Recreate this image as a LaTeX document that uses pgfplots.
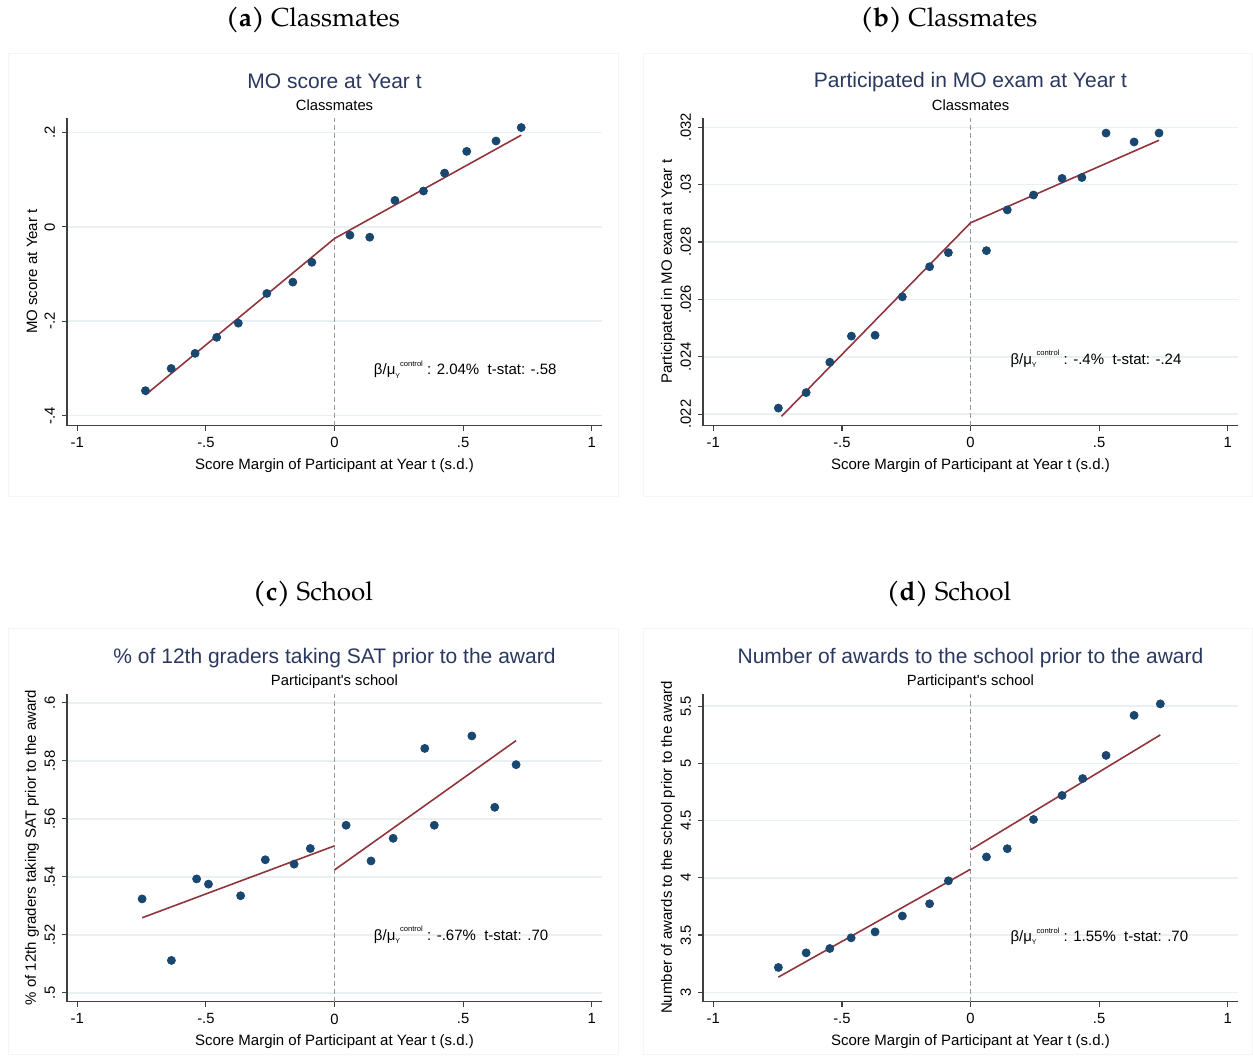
\documentclass[border=0pt]{standalone}
\usepackage{fontspec}
\setmainfont{Liberation Sans}
\newfontfamily\capfont{texgyrepagella-regular.otf}[BoldFont=texgyrepagella-bold.otf]
\usepackage{pgfplots}
\pgfplotsset{compat=1.18}

\definecolor{stnavy}{RGB}{26,71,111}
\definecolor{stmaroon}{RGB}{144,53,59}
\definecolor{sttitle}{RGB}{42,56,96}
\definecolor{stgrid}{RGB}{232,240,242}

\newcommand{\ttl}[2]{%
  \node[font=\fontsize{10.5}{12}\selectfont, text=sttitle] at (rel axis cs:0.5,1) [yshift=18pt] {#1};
  \node[font=\fontsize{7.4}{9}\selectfont] at (rel axis cs:0.5,1) [yshift=6pt] {#2};}
\newcommand{\stat}[1]{β/μ\raisebox{-0.4ex}{\fontsize{3.5}{4}\selectfont Y}\raisebox{1.1ex}{\fontsize{3.8}{4}\selectfont control} : #1}

\pgfplotsset{stata/.style={
  scale only axis, width=267.5pt, height=154pt, anchor=south west,
  axis x line*=bottom, axis y line*=left,
  axis line style={black!75, line width=0.6pt},
  xmin=-1.04, xmax=1.04,
  xtick={-1,-0.5,0,0.5,1}, xticklabels={-1,-.5,0,.5,1},
  scaled y ticks=false,
  tick align=outside, major tick length=2.5pt,
  tick style={black!75, line width=0.6pt},
  ymajorgrids, grid style={stgrid, line width=0.8pt},
  tick label style={font=\fontsize{7.4}{8}\selectfont},
  yticklabel style={rotate=90, anchor=south},
  xticklabel style={anchor=north},
  xlabel={Score Margin of Participant at Year t (s.d.)},
  every axis x label/.style={at={(rel axis cs:0.5,0)}, anchor=center, yshift=-20pt,
    font=\fontsize{7.5}{8}\selectfont},
  every axis y label/.style={at={(rel axis cs:0,0.5)}, rotate=90, anchor=center, yshift=17.5pt,
    font=\fontsize{7.5}{8}\selectfont},
  clip=false,
}}
\tikzset{
  dots/.style={only marks, mark=*, mark size=2pt, color=stnavy},
  fit/.style={no marks, stmaroon, line width=0.8pt},
  zero/.style={no marks, gray!80, line width=0.6pt, dash pattern=on 2.5pt off 1.5pt},
  note/.style={anchor=west, inner sep=0pt, font=\fontsize{7.5}{8}\selectfont},
}

\begin{document}
\begin{tikzpicture}
\path (0,0) rectangle (626.5pt,-526.5pt);
\draw[black!4] (4pt,-26pt) rectangle (309pt,-247.5pt);
\draw[black!4] (321.5pt,-26pt) rectangle (626pt,-247.5pt);
\draw[black!4] (4pt,-313.5pt) rectangle (309pt,-526.5pt);
\draw[black!4] (321.5pt,-313.5pt) rectangle (626pt,-526.5pt);

\node[font=\capfont\fontsize{13}{15}\selectfont] at (156.5pt,-9pt) {\textbf{(a)} Classmates};
\node[font=\capfont\fontsize{13}{15}\selectfont] at (474.5pt,-9pt) {\textbf{(b)} Classmates};
\node[font=\capfont\fontsize{13}{15}\selectfont] at (156.5pt,-296pt) {\textbf{(c)} School};
\node[font=\capfont\fontsize{13}{15}\selectfont] at (474.5pt,-296pt) {\textbf{(d)} School};

% (a)
\begin{axis}[stata, at={(33.5pt,-212pt)},
  ymin=-0.421, ymax=0.2316,
  ytick={-0.4,-0.2,0,0.2}, yticklabels={-.4,-.2,0,.2},
  ylabel={MO score at Year t}]
\addplot[zero] coordinates {(0,-0.421) (0,0.2316)};
\addplot[dots] coordinates {(-0.735,-0.347) (-0.635,-0.300) (-0.542,-0.268) (-0.458,-0.234)
  (-0.374,-0.204) (-0.263,-0.141) (-0.162,-0.117) (-0.088,-0.075) (0.060,-0.0175) (0.137,-0.0218)
  (0.235,0.0561) (0.346,0.076) (0.428,0.114) (0.514,0.160) (0.628,0.182) (0.726,0.2105)};
\addplot[fit] coordinates {(-0.735,-0.356) (0,-0.0246)};
\addplot[fit] coordinates {(0,-0.0246) (0.726,0.1944)};
\node[note] at (axis cs:0.152,-0.302) {\stat{2.04\%\ \ t-stat: -.58}};
\ttl{MO score at Year t}{Classmates}
\end{axis}

% (b)
\begin{axis}[stata, at={(351.5pt,-212pt)},
  ymin=0.0216, ymax=0.03234,
  ytick={0.022,0.024,0.026,0.028,0.030,0.032}, yticklabels={.022,.024,.026,.028,.03,.032},
  ylabel={Participated in MO exam at Year t}]
\addplot[zero] coordinates {(0,0.0216) (0,0.03234)};
\addplot[dots] coordinates {(-0.747,0.02221) (-0.639,0.02275) (-0.547,0.02381) (-0.463,0.02472)
  (-0.371,0.02475) (-0.265,0.02609) (-0.159,0.02714) (-0.086,0.02763) (0.062,0.0277) (0.143,0.02912)
  (0.245,0.02964) (0.356,0.03022) (0.433,0.03025) (0.527,0.0318) (0.636,0.03149) (0.733,0.0318)};
\addplot[fit] coordinates {(-0.735,0.02192) (0,0.02867)};
\addplot[fit] coordinates {(0,0.02867) (0.733,0.03155)};
\node[note] at (axis cs:0.154,0.02394) {\stat{-.4\%\ \ t-stat: -.24}};
\ttl{Participated in MO exam at Year t}{Classmates}
\end{axis}

% (c)
\begin{axis}[stata, at={(33.5pt,-500pt)},
  ymin=0.497, ymax=0.6032,
  ytick={0.5,0.52,0.54,0.56,0.58,0.6}, yticklabels={.5,.52,.54,.56,.58,.6},
  ylabel={\% of 12th graders taking SAT prior to the award}]
\addplot[zero] coordinates {(0,0.497) (0,0.6032)};
\addplot[dots] coordinates {(-0.748,0.5324) (-0.634,0.5112) (-0.536,0.5393) (-0.490,0.5375)
  (-0.365,0.5335) (-0.269,0.5459) (-0.157,0.5444) (-0.094,0.5498) (0.045,0.5578) (0.142,0.5455)
  (0.228,0.5533) (0.351,0.5843) (0.388,0.5578) (0.534,0.5886) (0.623,0.5640) (0.706,0.5787)};
\addplot[fit] coordinates {(-0.748,0.5259) (0,0.5507)};
\addplot[fit] coordinates {(0,0.5424) (0.706,0.5870)};
\node[note] at (axis cs:0.152,0.52) {\stat{-.67\%\ \ t-stat: .70}};
\ttl{\% of 12th graders taking SAT prior to the award}{Participant\textquotesingle s school}
\end{axis}

% (d)
\begin{axis}[stata, at={(351.5pt,-500pt)},
  ymin=2.919, ymax=5.61,
  ytick={3,3.5,4,4.5,5,5.5}, yticklabels={3,3.5,4,4.5,5,5.5},
  ylabel={Number of awards to the school prior to the award}]
\addplot[zero] coordinates {(0,2.919) (0,5.61)};
\addplot[dots] coordinates {(-0.747,3.2175) (-0.639,3.345) (-0.547,3.383) (-0.464,3.476)
  (-0.371,3.528) (-0.265,3.667) (-0.159,3.774) (-0.086,3.974) (0.062,4.183) (0.143,4.255)
  (0.245,4.51) (0.356,4.72) (0.436,4.868) (0.527,5.07) (0.636,5.42) (0.738,5.52)};
\addplot[fit] coordinates {(-0.747,3.133) (0,4.075)};
\addplot[fit] coordinates {(0,4.245) (0.738,5.249)};
\node[note] at (axis cs:0.154,3.49) {\stat{1.55\%\ \ t-stat: .70}};
\ttl{Number of awards to the school prior to the award}{Participant\textquotesingle s school}
\end{axis}
\end{tikzpicture}
\end{document}
